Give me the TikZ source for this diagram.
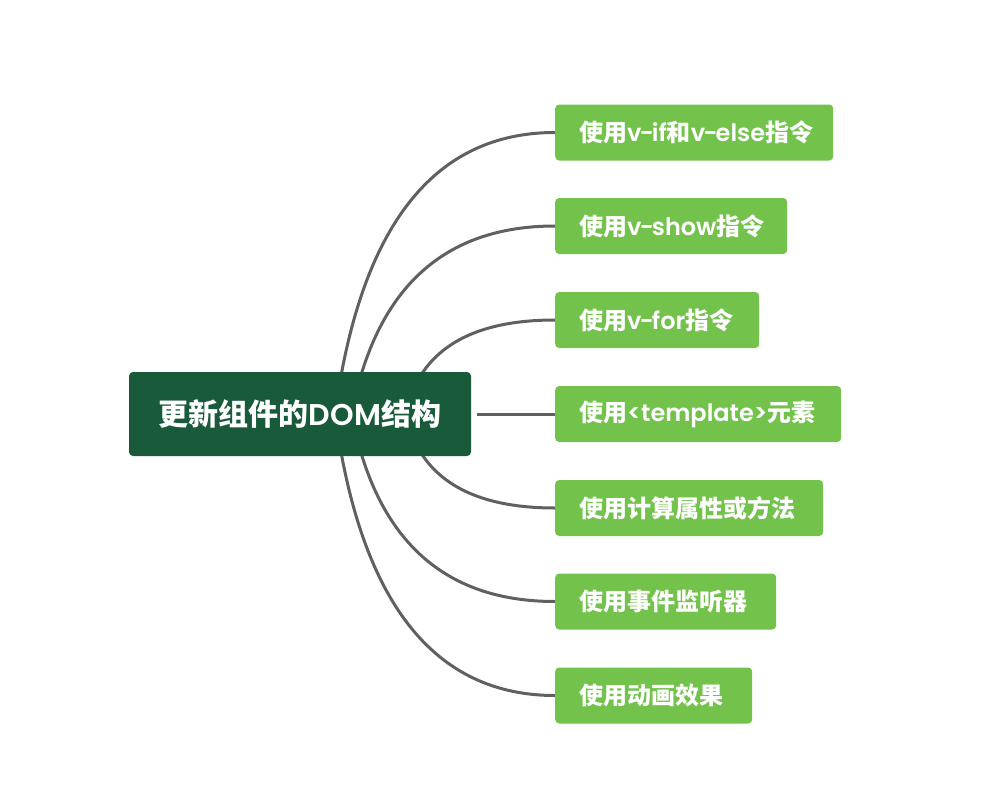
\documentclass[tikz,border=0pt]{standalone}
\usepackage{fontspec}
\setmainfont{Poppins}[BoldFont={* SemiBold}]
\newfontfamily\cjk{Noto Sans CJK SC}
\usetikzlibrary{backgrounds}
\definecolor{rootgreen}{HTML}{185A3A}
\definecolor{kidgreen}{HTML}{72C24C}
\definecolor{linegray}{HTML}{606060}
\newcommand{\kidtext}[2]{\makebox[#1][l]{#2}}
\newcommand{\hy}{\kern-1.8pt-\kern-1.8pt}
\begin{document}
\begin{tikzpicture}[x=1pt,y=-1pt,
  rootbox/.style={fill=rootgreen, rounded corners=4pt, text=white, minimum width=342pt, minimum height=84pt, inner sep=0pt, font=\bfseries\fontsize{30}{34}\selectfont},
  kid/.style={fill=kidgreen, rounded corners=4pt, text=white, anchor=west, minimum height=56pt, inner xsep=24pt, inner ysep=0pt, font=\bfseries\fontsize{24}{28}\selectfont},
  conn/.style={draw=linegray, line width=3pt}]
\useasboundingbox (0,0) rectangle (987,800);
\node[rootbox] (root) at (300,414) {{\cjk 更新组件的}DOM{\cjk 结构}};
\node[kid] (n1) at (555,132.5) {\kidtext{230pt}{{\cjk 使用}v\hy if{\cjk 和}v\hy else{\cjk 指令}}};
\node[kid] (n2) at (555,226) {\kidtext{184pt}{{\cjk 使用}v\hy show{\cjk 指令}}};
\node[kid] (n3) at (555,320) {\kidtext{156pt}{{\cjk 使用}v\hy for{\cjk 指令}}};
\node[kid] (n4) at (555,414) {\kidtext{238pt}{{\cjk 使用}<template>{\cjk 元素}}};
\node[kid] (n5) at (555,508) {\kidtext{220pt}{{\cjk 使用计算属性或方法}}};
\node[kid] (n6) at (555,601.5) {\kidtext{173pt}{{\cjk 使用事件监听器}}};
\node[kid] (n7) at (555,695.5) {\kidtext{149pt}{{\cjk 使用动画效果}}};
\begin{scope}[on background layer]
\draw[conn] ([xshift=35pt]root.center) .. controls +(25.3,-188) and +(-121.3,0) .. (n1.west);
\draw[conn] ([xshift=51.6pt]root.center) .. controls +(23.9,-125.3) and +(-111.7,0) .. (n2.west);
\draw[conn] ([xshift=105.5pt]root.center) .. controls +(13.5,-62.7) and +(-86.2,0) .. (n3.west);
\draw[conn] ([xshift=6pt]root.east) -- (n4.west);
\draw[conn] ([xshift=105.5pt]root.center) .. controls +(13.5,62.7) and +(-86.2,0) .. (n5.west);
\draw[conn] ([xshift=51.6pt]root.center) .. controls +(23.9,125.3) and +(-111.7,0) .. (n6.west);
\draw[conn] ([xshift=35pt]root.center) .. controls +(25.3,188) and +(-121.3,0) .. (n7.west);
\end{scope}
\end{tikzpicture}
\end{document}
